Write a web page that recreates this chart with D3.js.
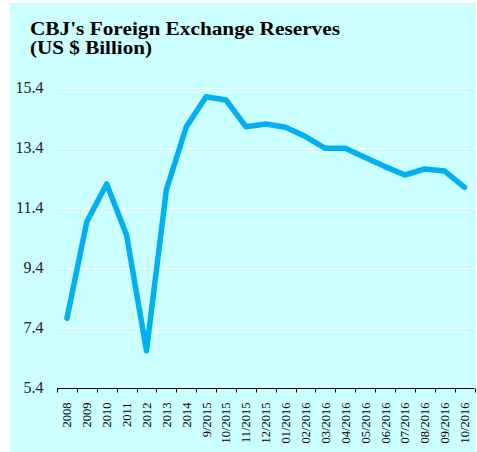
<!DOCTYPE html>
<html>
<head>
<meta charset="utf-8">
<script src="https://cdn.jsdelivr.net/npm/d3@7"></script>
<style>
  body { margin: 0; background: #fff; }
  svg { display: block; }
  text { font-family: "Liberation Serif", "DejaVu Serif", "Times New Roman", serif; }
</style>
</head>
<body>
<div id="chart"></div>
<script>
var categories = ["2008", "2009", "2010", "2011", "2012", "2013", "2014",
    "9/2015", "10/2015", "11/2015", "12/2015", "01/2016", "02/2016", "03/2016",
    "04/2016", "05/2016", "06/2016", "07/2016", "08/2016", "09/2016", "10/2016"];
var reserves = [7.72, 10.94, 12.2, 10.5, 6.64, 12.0, 14.1,
    15.11, 15.0, 14.11, 14.2, 14.09, 13.78, 13.39,
    13.39, 13.08, 12.78, 12.5, 12.7, 12.63, 12.09];
var yTicks = [5.4, 7.4, 9.4, 11.4, 13.4, 15.4];

var W = 477, H = 452;
var margin = { top: 88, right: 2.5, bottom: 64, left: 57 };
var width = W - margin.left - margin.right,
    height = H - margin.top - margin.bottom;

var svg = d3.select("#chart").append("svg")
    .attr("width", W)
    .attr("height", H);

svg.append("rect")
    .attr("x", 10).attr("y", 3)
    .attr("width", 466).attr("height", 449)
    .attr("fill", "#ccffff");

svg.append("text")
    .attr("x", 30).attr("y", 35)
    .style("font-weight", "bold")
    .style("font-size", "19.5px")
    .attr("textLength", 310)
    .attr("lengthAdjust", "spacingAndGlyphs")
    .text("CBJ's Foreign Exchange Reserves");
svg.append("text")
    .attr("x", 30).attr("y", 54)
    .style("font-weight", "bold")
    .style("font-size", "19.5px")
    .attr("textLength", 122)
    .attr("lengthAdjust", "spacingAndGlyphs")
    .text("(US $ Billion)");

var g = svg.append("g")
    .attr("transform", "translate(" + margin.left + "," + margin.top + ")");

var x = d3.scaleBand()
    .domain(categories)
    .range([0, width]);

var y = d3.scaleLinear()
    .domain([5.4, 15.4])
    .range([height, 0]);

// grid lines
g.selectAll(".grid")
    .data(yTicks.slice(1))
    .enter()
    .append("line")
    .attr("x1", 0).attr("x2", width + 1)
    .attr("y1", function (d) { return Math.round(y(d)) + 0.5; })
    .attr("y2", function (d) { return Math.round(y(d)) + 0.5; })
    .attr("stroke", "#ffffff")
    .attr("stroke-width", 1);

// y labels
g.selectAll(".ylab")
    .data(yTicks)
    .enter()
    .append("text")
    .attr("x", -13.5)
    .attr("y", function (d) { return y(d) + 5; })
    .attr("text-anchor", "end")
    .style("font-size", "16px")
    .attr("fill", "#222")
    .text(function (d) { return d.toFixed(1); });

// x axis
var xAxis = g.append("g")
    .attr("transform", "translate(0," + (height + 0.5) + ")");
xAxis.append("line")
    .attr("x1", 0).attr("x2", width)
    .attr("stroke", "#000");
var tickPos = categories.map(function (c) { return x(c); }).concat([width]);
xAxis.selectAll(".tick")
    .data(tickPos)
    .enter()
    .append("line")
    .attr("x1", function (d) { return Math.round(d) + 0.5; })
    .attr("x2", function (d) { return Math.round(d) + 0.5; })
    .attr("y1", 0).attr("y2", 4)
    .attr("stroke", "#000");
xAxis.selectAll(".xlab")
    .data(categories)
    .enter()
    .append("text")
    .attr("transform", function (d) {
        return "translate(" + (x(d) + x.bandwidth() / 2 + 4.5) + ",14) rotate(-90)";
    })
    .attr("text-anchor", "end")
    .style("font-size", "12.5px")
    .attr("fill", "#000")
    .text(function (d) { return d; });

// line
var line = d3.line()
    .x(function (d, i) { return x(categories[i]) + x.bandwidth() / 2; })
    .y(function (d) { return y(d); });

g.append("path")
    .datum(reserves)
    .attr("d", line)
    .attr("fill", "none")
    .attr("stroke", "#00b0f0")
    .attr("stroke-width", 5.5)
    .attr("stroke-linejoin", "round")
    .attr("stroke-linecap", "round");
</script>
</body>
</html>
